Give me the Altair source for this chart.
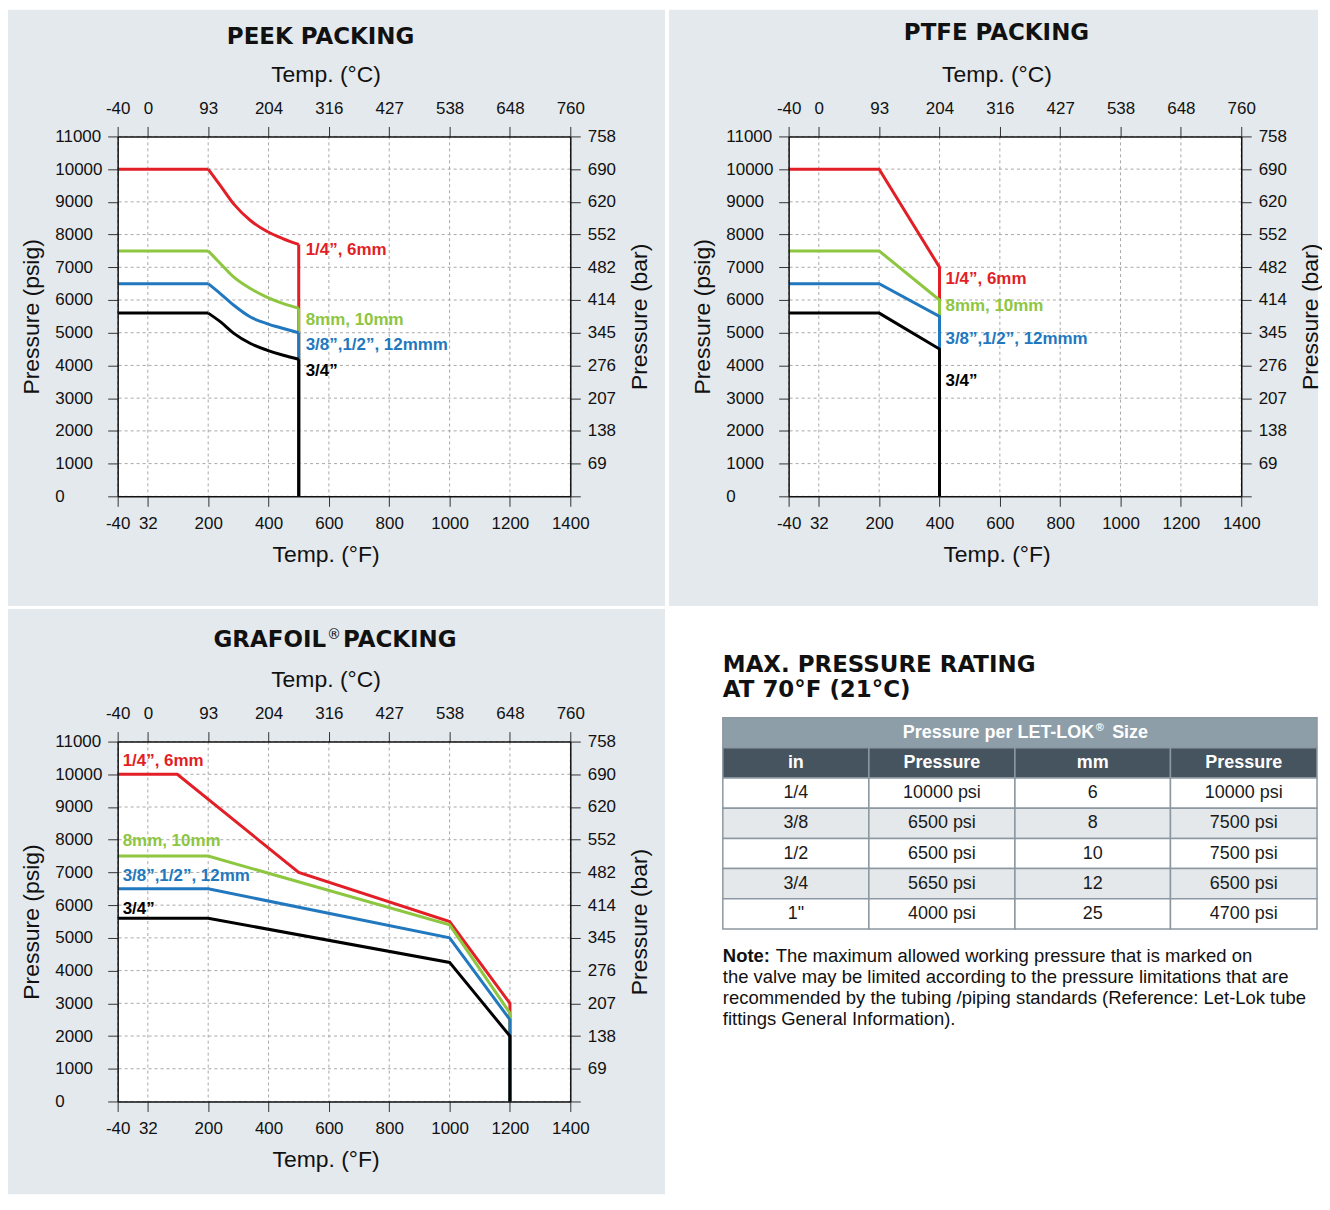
import json
import altair as alt
import pandas as pd

# ---------------- data ----------------
F_TICKS = [-40, 32, 200, 400, 600, 800, 1000, 1200, 1400]
C_LABELS = ["-40", "0", "93", "204", "316", "427", "538", "648", "760"]
PSIG_TICKS = [0, 1000, 2000, 3000, 4000, 5000, 6000, 7000, 8000, 9000, 10000, 11000]
BAR_LABELS = ["", "69", "138", "207", "276", "345", "414", "482", "552", "620", "690", "758"]

SERIES_COLORS = ["#e21f26", "#8dc63f", "#2278be", "#000000"]

# PEEK packing (flat part, curved part, vertical drop)
PEEK_LABELS = ["1/4”, 6mm", "8mm, 10mm", "3/8”,1/2”, 12mmm", "3/4”"]
PEEK_T = [-40, 200, 241, 285, 340, 394, 449, 500, 500]
PEEK_RED = [10000, 10000, 9490, 8930, 8430, 8100, 7870, 7700, 0]
PEEK_GREEN = [7500, 7500, 7110, 6700, 6350, 6090, 5890, 5750, 0]
PEEK_BLUE = [6500, 6500, 6190, 5840, 5480, 5280, 5130, 5000, 0]
PEEK_BLACK = [5600, 5600, 5330, 4980, 4670, 4470, 4310, 4190, 0]
PEEK_LABEL_T = [500, 500, 500, 500]
PEEK_LABEL_P = [7520, 5390, 4630, 3840]

# PTFE packing
PTFE_LABELS = ["1/4”, 6mm", "8mm, 10mm", "3/8”,1/2”, 12mmm", "3/4”"]
PTFE_T = [-40, 200, 400, 400]
PTFE_RED = [10000, 10000, 7000, 0]
PTFE_GREEN = [7500, 7500, 6000, 0]
PTFE_BLUE = [6500, 6500, 5500, 0]
PTFE_BLACK = [5600, 5600, 4500, 0]
PTFE_LABEL_T = [400, 400, 400, 400]
PTFE_LABEL_P = [6630, 5820, 4810, 3520]

# GRAFOIL packing
GRAF_LABELS = ["1/4”, 6mm", "8mm, 10mm", "3/8”,1/2”, 12mm", "3/4”"]
GRAF_RED_T = [-40, 114, 500, 1000, 1200, 1200]
GRAF_RED = [10000, 10000, 7000, 5500, 3000, 0]
GRAF_T = [-40, 200, 1000, 1200, 1200]
GRAF_GREEN = [7500, 7500, 5400, 2700, 0]
GRAF_BLUE = [6500, 6500, 5000, 2500, 0]
GRAF_BLACK = [5600, 5600, 4250, 2000, 0]
GRAF_LABEL_T = [-40, -40, -40, -40]
GRAF_LABEL_P = [10400, 7960, 6900, 5880]

# Table
TABLE_HEADING = ["MAX. PRESSURE RATING", "AT 70°F (21°C)"]
TABLE_TITLE = ["Pressure per LET-LOK", "®", "Size"]
HEADERS = ["in", "Pressure", "mm", "Pressure"]
IN_SIZES = ["1/4", "3/8", "1/2", "3/4", '1"']
IN_PRESS = ["10000 psi", "6500 psi", "6500 psi", "5650 psi", "4000 psi"]
MM_SIZES = ["6", "8", "10", "12", "25"]
MM_PRESS = ["10000 psi", "7500 psi", "7500 psi", "6500 psi", "4700 psi"]
NOTE_BOLD = "Note:"
NOTE_FIRST = "The maximum allowed working pressure that is marked on"
NOTE_REST = [
    "the valve may be limited according to the pressure limitations that are",
    "recommended by the tubing /piping standards (Reference: Let-Lok tube",
    "fittings General Information).",
]

# ---------------- style / layout ----------------
W, H = 454, 361
SLOT = W / 7.5
GREY = "#e4e9ed"
FONT = "Liberation Sans"
TITLE_FONT = "DejaVu Sans"
TITLE_SIZE = 23
GRID = "#a8a8a8"

C_EXPR = f"{json.dumps(C_LABELS)}[indexof({json.dumps(F_TICKS)}, datum.value)]"
BAR_EXPR = f"{json.dumps(BAR_LABELS)}[indexof({json.dumps(PSIG_TICKS)}, datum.value)]"


def xs():
    return alt.Scale(domain=[-40, 32, 200, 1400], range=[0, SLOT * 0.5, SLOT * 1.5, W],
                     nice=False, zero=False)


def ys():
    return alt.Scale(domain=[0, 11000], nice=False, zero=False)


AX = dict(labelFont=FONT, labelFontSize=17, labelColor="#111", titleFont=FONT,
          titleFontSize=23, titleFontWeight="normal", titleColor="#111", tickSize=10,
          tickColor="#333", tickWidth=1, domainColor="#111", domainWidth=1.5, grid=False,
          zindex=1, labelFlush=False, labelOverlap=False)


def axis_bottom():
    return alt.Axis(orient="bottom", values=F_TICKS, labelExpr="'' + datum.value",
                    labelPadding=9, title="Temp. (°F)", titleX=208.5, titleY=58,
                    titleBaseline="middle", **AX)


def axis_top():
    return alt.Axis(orient="top", values=F_TICKS, labelExpr=C_EXPR, labelPadding=9,
                    title="Temp. (°C)", titleX=208.5, titleY=-62, titleBaseline="middle", **AX)


def axis_left():
    return alt.Axis(orient="left", values=PSIG_TICKS, format="d", labelAlign="left",
                    labelBaseline="middle", labelPadding=53, title="Pressure (psig)",
                    titleX=-86, titleY=H / 2, titleAngle=270, titleBaseline="middle", **AX)


def axis_right():
    return alt.Axis(orient="right", values=PSIG_TICKS, labelExpr=BAR_EXPR, labelAlign="left",
                    labelBaseline="middle", labelPadding=7, title="Pressure (bar)",
                    titleX=69, titleY=H / 2, titleAngle=270, titleBaseline="middle", **AX)


def title_piece(text, x, y, size=TITLE_SIZE, weight="bold", align="center"):
    return alt.Chart(pd.DataFrame({"k": [0]})).mark_text(
        font=TITLE_FONT, fontSize=size, fontWeight=weight, color="#111",
        align=align, baseline="middle").encode(
        x=alt.value(x), y=alt.value(y), text=alt.value(text))


def panel(title_layers, series, labels, label_t, label_p, label_dx, ext):
    """series: list (one per size) of segments (temps, psigs, interpolate)."""
    one = pd.DataFrame({"k": [0]})
    L, R, T, B = ext
    layers = [
        alt.Chart(one).mark_rect(color=GREY).encode(
            x=alt.value(L), x2=alt.value(R), y=alt.value(T), y2=alt.value(B)),
        alt.Chart(one).mark_rect(color="white").encode(
            x=alt.value(0), x2=alt.value(W), y=alt.value(0), y2=alt.value(H)),
        alt.Chart(pd.DataFrame({"t": F_TICKS})).mark_rule(
            color=GRID, strokeDash=[3, 3], strokeWidth=1).encode(
            x=alt.X("t:Q", scale=xs(), axis=axis_top())),
        alt.Chart(pd.DataFrame({"p": PSIG_TICKS})).mark_rule(
            color=GRID, strokeDash=[3, 3], strokeWidth=1).encode(
            y=alt.Y("p:Q", scale=ys(), axis=axis_right())),
    ]
    first = True
    for k, segs in enumerate(series):
        for temps, ps, interp in segs:
            df = pd.DataFrame({"t": temps, "p": ps, "i": list(range(len(temps)))})
            layers.append(alt.Chart(df).mark_line(
                color=SERIES_COLORS[k], strokeWidth=3, interpolate=interp).encode(
                x=alt.X("t:Q", scale=xs(), axis=axis_bottom() if first else None),
                y=alt.Y("p:Q", scale=ys(), axis=axis_left() if first else None),
                order=alt.Order("i:Q"),
            ))
            first = False
    for k in range(4):
        ldf = pd.DataFrame({"t": [label_t[k]], "p": [label_p[k]], "s": [labels[k]]})
        layers.append(alt.Chart(ldf).mark_text(
            align="left", baseline="middle", dx=label_dx, font=FONT, fontSize=17,
            fontWeight="bold", color=SERIES_COLORS[k]).encode(
            x=alt.X("t:Q", scale=xs(), axis=None),
            y=alt.Y("p:Q", scale=ys(), axis=None),
            text="s:N"))
    layers.extend(title_layers)
    return alt.layer(*layers).properties(width=W, height=H).resolve_axis(
        x="independent", y="independent")


def peek_segments(vals):
    return [(PEEK_T[0:2], vals[0:2], "linear"),
            (PEEK_T[1:8], vals[1:8], "monotone"),
            (PEEK_T[7:9], vals[7:9], "linear")]


def straight(temps, vals):
    return [(temps, vals, "linear")]


peek = panel([title_piece("PEEK PACKING", 203.5, -100)],
             [peek_segments(v) for v in (PEEK_RED, PEEK_GREEN, PEEK_BLUE, PEEK_BLACK)],
             PEEK_LABELS, PEEK_LABEL_T, PEEK_LABEL_P, 7, (-110, 549, -127, 471))
ptfe = panel([title_piece("PTFE PACKING", 208.5, -104)],
             [straight(PTFE_T, v) for v in (PTFE_RED, PTFE_GREEN, PTFE_BLUE, PTFE_BLACK)],
             PTFE_LABELS, PTFE_LABEL_T, PTFE_LABEL_P, 6, (-120, 531, -127, 471))
graf = panel([title_piece("GRAFOIL", 209, -102, align="right"),
              title_piece("®", 210, -107, size=14, weight="normal", align="left"),
              title_piece("PACKING", 226, -102, align="left")],
             [straight(GRAF_RED_T, GRAF_RED), straight(GRAF_T, GRAF_GREEN),
              straight(GRAF_T, GRAF_BLUE), straight(GRAF_T, GRAF_BLACK)],
             GRAF_LABELS, GRAF_LABEL_T, GRAF_LABEL_P, 5, (-110, 549, -133, 454))

# ---------------- table panel ----------------
# origin of this panel is aligned with the GRAFOIL plot origin (row alignment)
TW, TH = 596, 212
TOP = -24
TSIZE = 18
tx = alt.Scale(domain=[0, 1, 2, 3, 4], range=[0, 146.5, 293, 449, TW], nice=False, zero=False)
ty = alt.Scale(domain=[0, 7], range=[TOP, TOP + TH], nice=False, zero=False)

cells = [dict(c0=0, c1=4, r=0, kind="title", text="")]
for j, h in enumerate(HEADERS):
    cells.append(dict(c0=j, c1=j + 1, r=1, kind="head", text=h))
for i in range(len(IN_SIZES)):
    vals = [IN_SIZES[i], IN_PRESS[i], MM_SIZES[i], MM_PRESS[i]]
    kind = "odd" if i % 2 == 0 else "even"
    for j, v in enumerate(vals):
        cells.append(dict(c0=j, c1=j + 1, r=i + 2, kind=kind, text=v))
cdf = pd.DataFrame(cells)
cdf["r1"] = cdf["r"] + 1
cdf["rm"] = cdf["r"] + 0.5
cdf["cm"] = (cdf["c0"] + cdf["c1"]) / 2

one = pd.DataFrame({"k": [0]})
t_bg = alt.Chart(one).mark_rect(color="white").encode(
    x=alt.value(-54), x2=alt.value(TW), y=alt.value(-133), y2=alt.value(454))
t_cells = alt.Chart(cdf).mark_rect(stroke="#8c98a1", strokeWidth=1.5).encode(
    x=alt.X("c0:Q", scale=tx, axis=None), x2="c1:Q",
    y=alt.Y("r:Q", scale=ty, axis=None), y2="r1:Q",
    fill=alt.Fill("kind:N", scale=alt.Scale(domain=["title", "head", "odd", "even"],
                                            range=["#8e9ea8", "#46545f", "#ffffff", "#e4e8eb"]),
                  legend=None))
title_rows = cdf[cdf["kind"] == "title"]
t_title = []
for txt, x, size, align, dy in [(TABLE_TITLE[0], 372.5, TSIZE, "right", 0),
                                (TABLE_TITLE[1], 374, 11, "left", -5),
                                (TABLE_TITLE[2], 390.5, TSIZE, "left", 0)]:
    t_title.append(alt.Chart(title_rows).mark_text(
        font=FONT, fontSize=size, fontWeight="bold", color="white", baseline="middle",
        align=align, dy=dy).encode(
        x=alt.value(x), y=alt.Y("rm:Q", scale=ty, axis=None), text=alt.value(txt)))
t_head = alt.Chart(cdf).transform_filter("datum.kind == 'head'").mark_text(
    font=FONT, fontSize=TSIZE, fontWeight="bold", color="white", baseline="middle").encode(
    x=alt.X("cm:Q", scale=tx, axis=None), y=alt.Y("rm:Q", scale=ty, axis=None), text="text:N")
t_body = alt.Chart(cdf).transform_filter("datum.kind == 'odd' || datum.kind == 'even'").mark_text(
    font=FONT, fontSize=TSIZE, color="#1a1a1a", baseline="middle").encode(
    x=alt.X("cm:Q", scale=tx, axis=None), y=alt.Y("rm:Q", scale=ty, axis=None), text="text:N")
t_heading = alt.Chart(one).mark_text(
    font=TITLE_FONT, fontSize=TITLE_SIZE, fontWeight="bold", color="#111", align="left",
    baseline="middle", lineHeight=25).encode(
    x=alt.value(0), y=alt.value(-77), text=alt.value(TABLE_HEADING))
NSIZE = 18.5
n_bold = alt.Chart(one).mark_text(
    font=FONT, fontSize=NSIZE, fontWeight="bold", color="#111", align="left",
    baseline="middle").encode(x=alt.value(0), y=alt.value(215), text=alt.value(NOTE_BOLD))
n_first = alt.Chart(one).mark_text(
    font=FONT, fontSize=NSIZE, color="#111", align="left", baseline="middle").encode(
    x=alt.value(53), y=alt.value(215), text=alt.value(NOTE_FIRST))
n_rest = alt.Chart(one).mark_text(
    font=FONT, fontSize=NSIZE, color="#111", align="left", baseline="middle",
    lineHeight=21).encode(x=alt.value(0), y=alt.value(236), text=alt.value(NOTE_REST))

table = alt.layer(t_bg, t_cells, *t_title, t_head, t_body, t_heading, n_bold, n_first,
                  n_rest).properties(width=TW, height=TOP + TH)

top = alt.hconcat(peek, ptfe, spacing=4)
bottom = alt.hconcat(graf, table, spacing=4)
chart = alt.vconcat(top, bottom, spacing=3).properties(
    padding=0, background="white").configure_view(stroke=None)

chart.save("out.html", embed_options={"renderer": "svg", "actions": False})
